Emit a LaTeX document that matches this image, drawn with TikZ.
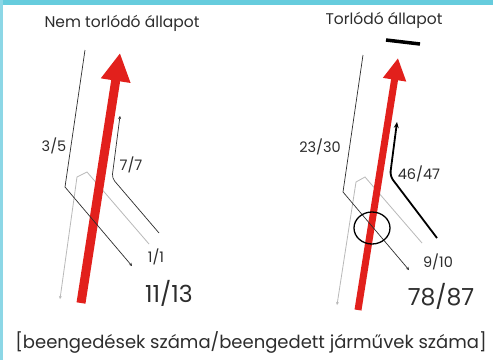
\documentclass[tikz,border=0pt]{standalone}
\usepackage{fontspec}
\setmainfont{Poppins}
\usetikzlibrary{arrows.meta,shapes.geometric}
\definecolor{barcyan}{RGB}{102,204,221}
\definecolor{barcyanL}{RGB}{140,215,230}
\definecolor{redarrow}{RGB}{226,32,28}
\definecolor{txt}{RGB}{45,45,45}
\definecolor{lgray}{RGB}{185,185,185}
\tikzset{
  lbl/.style={text=txt, inner sep=0pt, font=\fontsize{14.5}{16}\selectfont},
  big/.style={text=txt, inner sep=0pt, font=\fontsize{23.5}{26}\selectfont},
  ttl/.style={text=txt, inner sep=0pt, font=\fontsize{15.5}{17}\selectfont},
  thin/.style={draw=txt, line width=0.7pt},
  thick2/.style={draw=black, line width=1.8pt},
  gray/.style={draw=lgray, line width=0.8pt},
  dot/.style={-{Stealth[length=3pt,width=3pt]}},
  redarr/.style={draw=redarrow, line width=#1, -{Triangle[length=28pt,width=28pt]}},
  redarrS/.style={draw=redarrow, line width=#1, -{Triangle[length=22pt,width=22pt]}}
}
\begin{document}
\begin{tikzpicture}[x=1pt,y=-1pt]
\useasboundingbox (0,0) rectangle (493,360);
\fill[white] (0,0) rectangle (493,360);
\fill[barcyan] (0,0) rectangle (493,5);
\fill[barcyanL] (0,0) rectangle (3,360);

% ---------- left: Nem torlódó állapot
\node[ttl] (t1) at (122,23) {Nem torlódó állapot};
% coordinates
\coordinate (a1) at (85,50);
\coordinate (a2) at (65,187);
\coordinate (a3) at (132,266);
\coordinate (r1) at (81,303);
\coordinate (r2) at (120,53);
\coordinate (b1) at (120,116);
\coordinate (b2) at (112,178);
\coordinate (b3) at (159,233);
\coordinate (g1) at (60,299);
\coordinate (g2) at (77,177);
\coordinate (g3) at (87,172);
\coordinate (g4) at (149,244);

\draw[gray, dot] (g4) -- (g3) -- (g2) -- (g1);
\draw[redarr=9pt] (r1) -- (r2);
\draw[thin, dot] (a1) -- (a2) -- (a3);
\draw[thin, dot, rounded corners=4pt] (b3) -- (b2) -- (b1);

\node[lbl] (l35) at (54,146) {3/5};
\node[lbl] (l77) at (131,165) {7/7};
\node[lbl] (l11) at (156,257) {1/1};
\node[big] (l1113) at (169,293) {11/13};

% ---------- right: Torlódó állapot
\node[ttl] (t2) at (384,20) {Torlódó állapot};
\coordinate (k1) at (386,40);
\coordinate (k2) at (420,44);
\draw[line width=3.5pt, black] (k1) -- (k2);

\coordinate (c1) at (363,55);
\coordinate (c2) at (343,192);
\coordinate (c3) at (409,270);
\coordinate (s1) at (358,310);
\coordinate (s2) at (398,58);
\coordinate (d1) at (397,122);
\coordinate (d2) at (390,176);
\coordinate (d3) at (437,238);
\coordinate (h1) at (337,305);
\coordinate (h2) at (356,182);
\coordinate (h3) at (365,177);
\coordinate (h4) at (422,243);

\draw[gray, dot] (h4) -- (h3) -- (h2) -- (h1);
\draw[redarrS=7pt] (s1) -- (s2);
\draw[thin, dot] (c1) -- (c2) -- (c3);
\draw[thick2, -{Stealth[length=6pt,width=5pt]}, rounded corners=5pt] (d3) -- (d2) -- (d1);
\node[draw=black, line width=1.3pt, ellipse, minimum width=36pt, minimum height=32pt, inner sep=0pt] (circ) at (372,228) {};

\node[lbl] (l2330) at (320,147) {23/30};
\node[lbl] (l4647) at (419,174) {46/47};
\node[lbl] (l910) at (438,262) {9/10};
\node[big] (l7887) at (441,296) {78/87};

% ---------- legend
\node[text=txt, inner sep=0pt, font=\fontsize{18}{20}\selectfont] (leg) at (251,342) {[beengedések száma/beengedett járművek száma]};
\end{tikzpicture}
\end{document}
